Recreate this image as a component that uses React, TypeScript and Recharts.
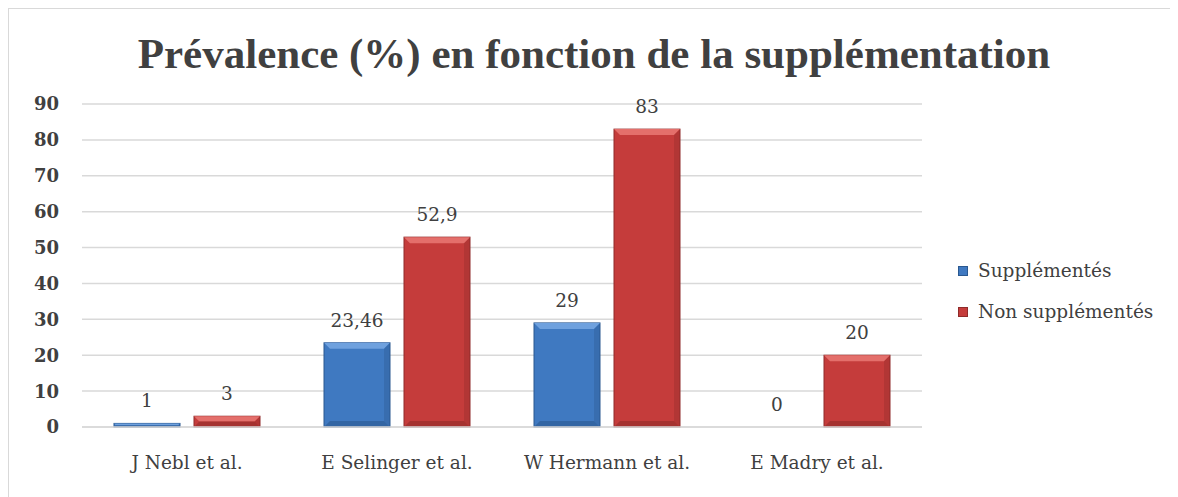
import React from 'react';
import {
  BarChart,
  Bar,
  XAxis,
  YAxis,
  CartesianGrid,
  LabelList,
} from 'recharts';

const categories = ['J Nebl et al.', 'E Selinger et al.', 'W Hermann et al.', 'E Madry et al.'];
const supplementes = [1, 23.46, 29, 0];
const nonSupplementes = [3, 52.9, 83, 20];
const yTicks = [0, 10, 20, 30, 40, 50, 60, 70, 80, 90];
const edgeTicks = [0, 1, 2, 3, 4];

const data = categories.map((name, i) => ({
  name,
  idx: i + 0.5,
  supp: supplementes[i],
  nonSupp: nonSupplementes[i],
}));

const FONT = '"DejaVu Serif", "Liberation Serif", serif';
const TITLE_FONT = '"Liberation Serif", serif';
const TEXT = '#404040';
const GRID = '#d9d9d9';

const palette = {
  blue: { main: '#3f79c1', light: '#6fa1de', dark: '#2a5890' },
  red: { main: '#c53c3b', light: '#e46f6b', dark: '#8f2b2a' },
};

// bevelled bar, roughly like the old Office 3D look
function bevelShape(colors: { main: string; light: string; dark: string }) {
  return (props: any) => {
    const { x, y, width, height } = props;
    if (!height || height <= 0) return <g />;
    const b = Math.min(6, height / 2);
    return (
      <g>
        <rect x={x} y={y} width={width} height={height} fill={colors.main} stroke={colors.dark} strokeWidth={1} />
        <polygon
          points={`${x},${y} ${x + width},${y} ${x + width - b},${y + b} ${x + b},${y + b}`}
          fill={colors.light}
        />
        <polygon
          points={`${x},${y + height} ${x + width},${y + height} ${x + width - b},${y + height - b} ${x + b},${y + height - b}`}
          fill={colors.dark}
          opacity={0.6}
        />
        <polygon
          points={`${x + width},${y} ${x + width},${y + height} ${x + width - b},${y + height - b} ${x + width - b},${y + b}`}
          fill={colors.dark}
          opacity={0.35}
        />
      </g>
    );
  };
}

const fmt = (v: any) => String(v).replace('.', ',');

export default function App() {
  return (
    <div
      style={{
        position: 'relative',
        width: 1170,
        height: 489,
        borderLeft: `1px solid ${GRID}`,
        borderTop: `1px solid ${GRID}`,
        fontFamily: FONT,
        color: TEXT,
      }}
    >
      <div
        style={{
          position: 'absolute',
          left: 0,
          top: 20,
          width: 1170,
          textAlign: 'center',
          fontFamily: TITLE_FONT,
          fontSize: 43,
          fontWeight: 'bold',
          lineHeight: '50px',
        }}
      >
        Prévalence (%) en fonction de la supplémentation
      </div>

      <BarChart
        width={1170}
        height={489}
        data={data}
        margin={{ top: 95, right: 257, bottom: 41, left: 0 }}
        barSize={66}
        barGap={14}
      >
        <CartesianGrid vertical={false} stroke={GRID} strokeWidth={1.5} />
        <XAxis
          xAxisId="edges"
          type="number"
          dataKey="idx"
          domain={[0, 4]}
          ticks={edgeTicks}
          tick={false}
          axisLine={false}
          tickLine={{ stroke: GRID, strokeWidth: 1.5 }}
          tickSize={6}
          height={0}
        />
        <XAxis
          dataKey="name"
          axisLine={{ stroke: GRID, strokeWidth: 1.5 }}
          tickLine={false}
          tickSize={0}
          tickMargin={29}
          height={30}
          tick={{ fill: TEXT, fontSize: 18.5, fontFamily: FONT }}
        />
        <YAxis
          domain={[0, 90]}
          ticks={yTicks}
          width={73}
          axisLine={false}
          tickLine={false}
          tickSize={0}
          tickMargin={23}
          tick={{ fill: TEXT, fontSize: 18, fontFamily: FONT, fontWeight: 'bold' }}
        />
        <Bar dataKey="supp" name="Supplémentés" fill={palette.blue.main} shape={bevelShape(palette.blue)} isAnimationActive={false}>
          <LabelList dataKey="supp" position="top" offset={16} formatter={fmt} fill={TEXT} fontSize={18.5} fontFamily={FONT} />
        </Bar>
        <Bar dataKey="nonSupp" name="Non supplémentés" fill={palette.red.main} shape={bevelShape(palette.red)} isAnimationActive={false}>
          <LabelList dataKey="nonSupp" position="top" offset={16} formatter={fmt} fill={TEXT} fontSize={18.5} fontFamily={FONT} />
        </Bar>
      </BarChart>

      <div style={{ position: 'absolute', left: 949, top: 241, fontSize: 18.5, lineHeight: '41px' }}>
        <div style={{ display: 'flex', alignItems: 'center' }}>
          <span style={{ width: 10, height: 10, background: palette.blue.main, border: `1px solid ${palette.blue.dark}`, marginRight: 10, boxSizing: 'border-box' }} />
          Supplémentés
        </div>
        <div style={{ display: 'flex', alignItems: 'center' }}>
          <span style={{ width: 10, height: 10, background: palette.red.main, border: `1px solid ${palette.red.dark}`, marginRight: 10, boxSizing: 'border-box' }} />
          Non supplémentés
        </div>
      </div>
    </div>
  );
}
